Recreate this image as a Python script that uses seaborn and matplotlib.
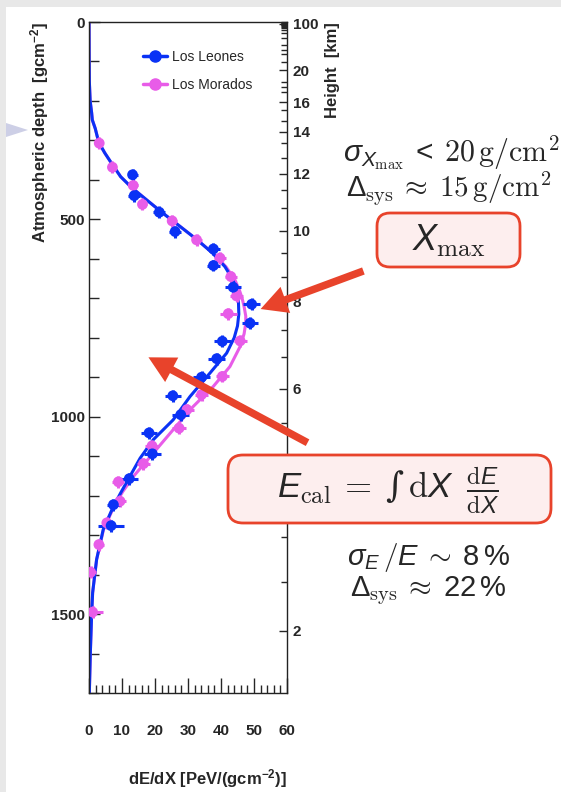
import pandas as pd
import seaborn as sns
import matplotlib as mpl
from matplotlib import pyplot as plt
from matplotlib.lines import Line2D
from matplotlib.patches import FancyBboxPatch, FancyArrowPatch, Polygon, Rectangle
from matplotlib.ticker import MultipleLocator, FixedLocator

sns.set_theme(style="ticks")
plt.rcParams['font.family'] = ['Liberation Sans', 'DejaVu Sans']
plt.rcParams['mathtext.fontset'] = 'custom'
plt.rcParams['mathtext.rm'] = 'cmr10'
plt.rcParams['mathtext.it'] = 'Liberation Sans:italic'
plt.rcParams['mathtext.bf'] = 'Liberation Sans:bold'
plt.rcParams['mathtext.sf'] = 'Liberation Sans'
plt.rcParams['mathtext.tt'] = 'DejaVu Serif'

BLUE = '#0a32f5'
MAGENTA = '#e85ce8'
RED = '#e8432b'

# Los Leones measurements
ll_dedx = [13.2, 13.7, 21.3, 26.1, 37.7, 37.7, 43.7, 49.3, 48.8, 40.4,
           38.7, 34.1, 25.4, 27.8, 18.2, 19.2, 12.2, 7.4, 6.7]
ll_depth = [387, 440, 482, 531, 575, 617, 672, 715, 763, 809,
            853, 900, 947, 995, 1041, 1094, 1157, 1223, 1276]
ll_err = [1.5, 1.8, 1.8, 1.8, 2.0, 2.0, 2.5, 2.5, 2.5, 2.5,
          2.5, 2.5, 2.5, 2.5, 2.5, 2.5, 2.5, 2.0, 4.0]

# Los Morados measurements
lm_dedx = [3.1, 7.1, 13.4, 16.2, 25.2, 32.6, 39.7, 43.0, 44.7, 42.2, 45.8,
           40.4, 34.1, 29.7, 27.3, 19.1, 16.5, 8.9, 9.4, 5.4, 3.0, 0.5, 1.1]
lm_depth = [307, 368, 414, 462, 504, 552, 598, 645, 694, 739, 808,
            898, 944, 982, 1029, 1074, 1119, 1165, 1214, 1269, 1324, 1394, 1495]
lm_err = [1.2, 1.2, 1.5, 1.5, 1.5, 1.5, 1.8, 1.8, 2.0, 2.5, 2.0,
          2.0, 2.0, 2.0, 2.0, 2.0, 2.0, 1.8, 1.8, 1.5, 1.5, 1.5, 3.0]
depth_err = 15

# fitted profiles
ll_fit_depth = [0, 100, 150, 200, 230, 248, 270, 290, 307, 332, 360, 392, 420, 451,
                485, 518, 552, 586, 620, 653, 685, 712, 740, 770, 800, 839, 889,
                949, 1008, 1058, 1105, 1151, 1190, 1227, 1286, 1362, 1446, 1500,
                1600, 1700]
ll_fit_dedx = [0, 0.05, 0.1, 0.35, 0.8, 1.0, 1.9, 2.5, 3.1, 4.8, 7.0, 9.6, 13.0, 17.5,
               22.5, 27.6, 32.8, 37.5, 41.2, 43.6, 44.8, 45.3, 45.4, 45.0, 44.0, 41.7,
               36.7, 30.6, 25.5, 19.5, 15.5, 12.4, 9.8, 7.4, 4.3, 2.3, 1.1, 0.8,
               0.4, 0.1]
lm_fit_depth = [0, 100, 150, 200, 230, 248, 270, 290, 307, 332, 360, 392, 420, 451,
                485, 518, 552, 586, 620, 653, 680, 700, 721, 745, 763, 790, 822, 873,
                923, 974, 1033, 1092, 1150, 1190, 1227, 1286, 1362, 1446, 1500, 1600,
                1700]
lm_fit_dedx = [0, 0.05, 0.1, 0.35, 0.8, 1.0, 1.9, 2.5, 3.1, 4.8, 7.0, 9.6, 13.0, 17.5,
               22.5, 27.6, 32.8, 37.6, 41.5, 44.2, 45.6, 46.4, 47.0, 47.5, 47.5, 47.0,
               45.8, 42.7, 37.7, 31.6, 25.5, 19.5, 13.6, 10.2, 7.6, 4.4, 2.3, 1.1,
               0.8, 0.4, 0.1]

# height axis (km) and the depth each label sits at; the 4 km label is hidden by the box
km_labels = ['2', '6', '8', '10', '12', '14', '16', '20', '100']
km_depth = [1542, 929, 709, 529, 385, 278, 203, 122, 4]
km_minor_depth = [1, 2, 3, 5, 6, 7, 8, 10, 13, 15, 20, 28, 41, 58, 71, 81, 101,
                  152, 165, 177, 223, 251, 306, 344, 425, 471,
                  585, 646, 780, 848, 1015, 1114, 1210, 1306, 1420]

leones = pd.DataFrame({'dEdX': ll_dedx, 'depth': ll_depth, 'err': ll_err})
morados = pd.DataFrame({'dEdX': lm_dedx, 'depth': lm_depth, 'err': lm_err})
ll_fit = pd.DataFrame({'dEdX': ll_fit_dedx, 'depth': ll_fit_depth})
lm_fit = pd.DataFrame({'dEdX': lm_fit_dedx, 'depth': lm_fit_depth})


def px(x, y):
    return (x / 100, (792 - y) / 100)


fig = plt.figure(figsize=(5.61, 7.92), dpi=100)
fig.patch.set_facecolor('white')
ax = fig.add_axes([89 / 561, 1 - 693 / 792, 198 / 561, 671 / 792])

sns.lineplot(data=lm_fit, x='dEdX', y='depth', sort=False, orient='y', estimator=None,
             color=MAGENTA, lw=2.2, ax=ax)
sns.lineplot(data=ll_fit, x='dEdX', y='depth', sort=False, orient='y', estimator=None,
             color=BLUE, lw=2.2, ax=ax)

for df, c in [(morados, MAGENTA), (leones, BLUE)]:
    ax.errorbar(df['dEdX'], df['depth'], xerr=df['err'], yerr=depth_err,
                fmt='none', ecolor=c, elinewidth=2.2, capsize=0, zorder=3)
    sns.scatterplot(data=df, x='dEdX', y='depth', color=c, s=60,
                    edgecolor='none', zorder=4, ax=ax)

ax.set_xlim(0, 60)
ax.set_ylim(1700, 0)
ax.set_xticks([0, 10, 20, 30, 40, 50, 60])
ax.xaxis.set_minor_locator(MultipleLocator(2))
ax.set_yticks([0, 500, 1000, 1500])
ax.yaxis.set_minor_locator(MultipleLocator(100))
ax.tick_params(axis='x', which='major', direction='in', length=11, width=1, pad=22, labelsize=11)
ax.tick_params(axis='x', which='minor', direction='in', length=6, width=1)
ax.tick_params(axis='y', which='major', direction='in', length=8, width=1, pad=3, labelsize=11)
ax.tick_params(axis='y', which='minor', direction='in', length=7, width=1)
ax.tick_params(top=False, right=False, which='both')
for lab in ax.get_xticklabels() + ax.get_yticklabels():
    lab.set_fontweight('bold')
for s in ax.spines.values():
    s.set_color('#222222')
    s.set_linewidth(1.0)

ax.set_xlabel(r'dE/dX [PeV/(gcm$^{\mathbf{-2}}$)]', fontsize=12, fontweight='bold', loc='right')
ax.xaxis.set_label_coords(1.0, -0.11)
ax.set_ylabel(r'Atmospheric depth  [gcm$^{\mathbf{-2}}$]', fontsize=12, fontweight='bold', loc='top')
ax.yaxis.set_label_coords(-0.19, 1.0)

ax2 = ax.twinx()
ax2.set_ylim(1700, 0)
ax2.yaxis.set_major_locator(FixedLocator(km_depth))
ax2.set_yticklabels(km_labels)
ax2.yaxis.set_minor_locator(FixedLocator(km_minor_depth))
ax2.tick_params(axis='y', which='major', direction='in', length=6, width=1, pad=4, labelsize=11)
ax2.tick_params(axis='y', which='minor', direction='in', length=4, width=1)
for lab in ax2.get_yticklabels():
    lab.set_fontweight('bold')
ax2.set_ylabel('Height  [km]', fontsize=12, fontweight='bold', loc='top')
ax2.yaxis.set_label_coords(1.19, 1.0)
for s in ax2.spines.values():
    s.set_visible(False)

handles = [Line2D([0], [0], color=BLUE, lw=2.5, marker='o', ms=8),
           Line2D([0], [0], color=MAGENTA, lw=2.5, marker='o', ms=8)]
ax2.legend(handles, ['Los Leones', 'Los Morados'], loc='upper left',
           bbox_to_anchor=(143 / 561, 1 - 50 / 792), bbox_transform=fig.transFigure,
           frameon=False, borderpad=0, borderaxespad=0, handlelength=1.7,
           handletextpad=0.4, labelspacing=1.0, fontsize=10)

# slide decorations
tr = fig.dpi_scale_trans
fig.add_artist(Rectangle((0, 7.85), 5.61, 0.07, transform=tr, color='#e8e8e8', lw=0))
fig.add_artist(Rectangle((0, 0), 0.06, 7.92, transform=tr, color='#e8e8e8', lw=0))
fig.add_artist(Polygon([px(6, 123), px(28, 130), px(6, 137)], closed=True,
                       transform=tr, color='#cdcfe6', lw=0))

fig.add_artist(FancyBboxPatch(px(377, 267), 1.43, 0.54, boxstyle='round,pad=0,rounding_size=0.13',
                              transform=tr, fc='#fdeeee', ec=RED, lw=2))
fig.add_artist(FancyBboxPatch(px(228, 523), 3.23, 0.68, boxstyle='round,pad=0,rounding_size=0.15',
                              transform=tr, fc='#fdeeee', ec=RED, lw=2))

arrow_style = 'simple,head_length=0.95,head_width=1.0,tail_width=0.27'
fig.add_artist(FancyArrowPatch(px(366, 270), px(258, 310), transform=tr, arrowstyle=arrow_style,
                               mutation_scale=20, color=RED, lw=0))
fig.add_artist(FancyArrowPatch(px(310, 444), px(146, 356), transform=tr, arrowstyle=arrow_style,
                               mutation_scale=20, color=RED, lw=0))

fig.text(*px(451, 153), r'$\sigma_{X_{\mathrm{max}}} \;\mathsf{<}\; 20\,\mathrm{g/cm^2}$',
         ha='center', va='center', fontsize=21.5, transform=tr)
fig.text(*px(449, 189), r'$\mathsf{\Delta}_{\mathrm{sys}} \;\approx\; 15\,\mathrm{g/cm^2}$',
         ha='center', va='center', fontsize=21, transform=tr)
fig.text(*px(449, 240), r'$X_{\mathrm{max}}$', ha='center', va='center', fontsize=26, transform=tr)
fig.text(*px(388, 490),
         r'$E_{\mathrm{cal}} \;=\; \mathtt{\int}\,\mathrm{d}X\;\; \frac{\mathrm{d}E}{\mathrm{d}X}$',
         ha='center', va='center', fontsize=25, transform=tr)
fig.text(*px(428, 558), r'$\sigma_E\,/E \;\sim\; \mathsf{8\,\%}$',
         ha='center', va='center', fontsize=21, transform=tr)
fig.text(*px(428, 591), r'$\mathsf{\Delta}_{\mathrm{sys}} \;\approx\; \mathsf{22\,\%}$',
         ha='center', va='center', fontsize=21, transform=tr)

fig.savefig('out.png', dpi=100)
